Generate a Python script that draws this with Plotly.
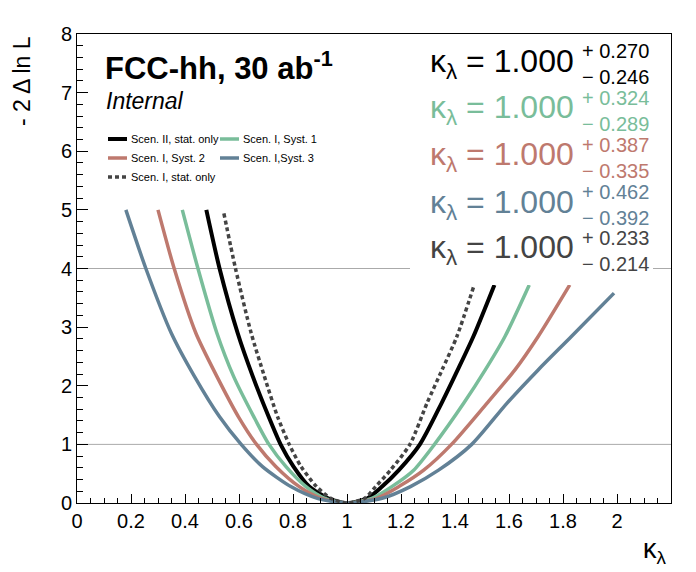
import plotly.graph_objects as go

# -2 Delta ln L scans vs kappa_lambda
k_scen2_stat = [0.479, 0.528, 0.595, 0.651, 0.710, 0.754, 0.802, 0.860, 0.930, 1.000,
                1.076, 1.130, 1.192, 1.270, 1.350, 1.410, 1.468, 1.546]
nll_scen2_stat = [5.00, 4.00, 2.90, 2.16, 1.47, 1.00, 0.62, 0.28, 0.08, 0.00,
                  0.08, 0.28, 0.56, 1.00, 1.70, 2.27, 2.84, 3.72]

k_syst1 = [0.390, 0.448, 0.518, 0.580, 0.655, 0.711, 0.774, 0.848, 0.918, 1.000,
           1.092, 1.166, 1.247, 1.324, 1.432, 1.512, 1.585, 1.675]
nll_syst1 = [5.00, 4.00, 2.90, 2.16, 1.47, 1.00, 0.62, 0.28, 0.08, 0.00,
             0.08, 0.28, 0.56, 1.00, 1.70, 2.27, 2.84, 3.72]

k_syst2 = [0.300, 0.360, 0.440, 0.518, 0.598, 0.665, 0.737, 0.823, 0.905, 1.000,
           1.110, 1.192, 1.284, 1.387, 1.518, 1.622, 1.708, 1.825]
nll_syst2 = [5.00, 4.00, 2.90, 2.16, 1.47, 1.00, 0.62, 0.28, 0.08, 0.00,
             0.08, 0.28, 0.56, 1.00, 1.70, 2.27, 2.84, 3.72]

k_syst3 = [0.181, 0.255, 0.349, 0.435, 0.528, 0.608, 0.687, 0.792, 0.890, 1.000,
           1.130, 1.235, 1.339, 1.462, 1.592, 1.708, 1.831, 1.989]
nll_syst3 = [5.00, 4.00, 2.90, 2.16, 1.47, 1.00, 0.62, 0.28, 0.08, 0.00,
             0.08, 0.28, 0.56, 1.00, 1.70, 2.27, 2.84, 3.58]

k_scen1_stat = [0.544, 0.587, 0.645, 0.694, 0.743, 0.786, 0.830, 0.887, 0.940, 1.000,
                1.066, 1.106, 1.161, 1.233, 1.296, 1.352, 1.407, 1.469]
nll_scen1_stat = [4.94, 4.00, 2.90, 2.16, 1.47, 1.00, 0.62, 0.28, 0.08, 0.00,
                  0.08, 0.28, 0.56, 1.00, 1.70, 2.27, 2.84, 3.69]

# fit results: central value, +err, -err
kl_central = [1.000, 1.000, 1.000, 1.000, 1.000]
kl_err_up = [0.270, 0.324, 0.387, 0.462, 0.233]
kl_err_dn = [0.246, 0.289, 0.335, 0.392, 0.214]

x_tick_vals = [0, 0.2, 0.4, 0.6, 0.8, 1, 1.2, 1.4, 1.6, 1.8, 2]
x_tick_text = ["0", "0.2", "0.4", "0.6", "0.8", "1", "1.2", "1.4", "1.6", "1.8", "2"]
y_tick_vals = [0, 1, 2, 3, 4, 5, 6, 7, 8]
sigma_levels = [1, 4]

BLACK = "#000000"
GREEN = "rgb(121,189,154)"
RED = "rgb(190,121,110)"
BLUE = "rgb(98,129,150)"
GREY = "rgb(68,68,68)"

FONT = "Liberation Sans, Arial, sans-serif"

W, H = 696, 572
L, R, T, B = 77, 25, 34, 69


def px2x(px):
    return (px - L) / (W - L - R)


def px2y(py):
    return (H - B - py) / (H - T - B)


series = [
    ("Scen. II, stat. only", k_scen2_stat, nll_scen2_stat, BLACK, 4, "solid"),
    ("Scen. I, Syst. 1", k_syst1, nll_syst1, GREEN, 3.5, "solid"),
    ("Scen. I, Syst. 2", k_syst2, nll_syst2, RED, 3.5, "solid"),
    ("Scen. I,Syst. 3", k_syst3, nll_syst3, BLUE, 3.5, "solid"),
    ("Scen. I, stat. only", k_scen1_stat, nll_scen1_stat, GREY, 3.5, "4px,3px"),
]

fig = go.Figure()

for name, xs, ys, col, lw, dash in series:
    fig.add_trace(go.Scatter(x=xs, y=ys, mode="lines", name=name, showlegend=False,
                             line=dict(color=col, width=lw, dash=dash, shape="spline", smoothing=0.7)))

shapes = []
# 1 and 2 sigma lines
for lv in sigma_levels:
    shapes.append(dict(type="line", xref="paper", yref="y", x0=0, x1=1, y0=lv, y1=lv,
                       line=dict(color="#aaaaaa", width=1), layer="below"))
# white box behind the results
shapes.append(dict(type="rect", xref="paper", yref="paper",
                   x0=px2x(410), x1=px2x(653), y0=px2y(285), y1=px2y(36),
                   fillcolor="white", line=dict(width=0), layer="above"))

annotations = []
# legend, two columns, row major like ROOT
leg_cols = [108, 220]
leg_rows = [139, 158, 177]
for i, (name, xs, ys, col, lw, dash) in enumerate(series):
    cx = leg_cols[i % 2]
    cy = leg_rows[i // 2]
    shapes.append(dict(type="line", xref="paper", yref="paper",
                       x0=px2x(cx), x1=px2x(cx + 19), y0=px2y(cy), y1=px2y(cy),
                       line=dict(color=col, width=lw, dash=dash), layer="above"))
    annotations.append(dict(text=name, xref="paper", yref="paper", x=px2x(cx + 21), y=px2y(cy),
                            xanchor="left", yanchor="middle", showarrow=False,
                            font=dict(family=FONT, size=11, color="black")))

# results
res_cols = [BLACK, GREEN, RED, BLUE, GREY]
res_rows = [63, 110, 157, 204, 250]
for c, up, dn, col, ry in zip(kl_central, kl_err_up, kl_err_dn, res_cols, res_rows):
    annotations.append(dict(text=f"κ<sub>λ</sub> = {c:.3f}", xref="paper", yref="paper",
                            x=px2x(576), y=px2y(ry), xanchor="right", yanchor="middle",
                            showarrow=False, font=dict(family=FONT, size=32, color=col)))
    annotations.append(dict(text=f"+ {up:.3f}<br>\u2212 {dn:.3f}", xref="paper", yref="paper",
                            x=px2x(580), y=px2y(ry + 1), xanchor="left", yanchor="middle", align="left",
                            showarrow=False, font=dict(family=FONT, size=20, color=col)))

annotations += [
    dict(text="<b>FCC-hh, 30 ab<sup>-1</sup></b>", xref="paper", yref="paper",
         x=px2x(103), y=px2y(66), xanchor="left", yanchor="middle", showarrow=False,
         font=dict(family=FONT, size=31, color="black")),
    dict(text="<i>Internal</i>", xref="paper", yref="paper",
         x=px2x(104), y=px2y(101), xanchor="left", yanchor="middle", showarrow=False,
         font=dict(family=FONT, size=23, color="black")),
    dict(text="- 2 Δ ln L", xref="paper", yref="paper", textangle=-90,
         x=px2x(22), y=px2y(34), xanchor="center", yanchor="top", showarrow=False,
         font=dict(family=FONT, size=23, color="black")),
    dict(text="κ<sub>λ</sub>", xref="paper", yref="paper",
         x=px2x(669), y=px2y(551), xanchor="right", yanchor="middle", showarrow=False,
         font=dict(family=FONT, size=27, color="black")),
]

fig.update_layout(
    width=W, height=H,
    margin=dict(l=L, r=R, t=T, b=B),
    paper_bgcolor="white", plot_bgcolor="white",
    font=dict(family=FONT, size=20, color="black"),
    shapes=shapes,
    annotations=annotations,
    showlegend=False,
)
fig.update_xaxes(range=[0, 2.2], tickvals=x_tick_vals, ticktext=x_tick_text,
                 ticks="inside", ticklen=9, tickcolor="black", showgrid=False, zeroline=False,
                 showline=True, linecolor="black", linewidth=1, mirror=True,
                 tickfont=dict(size=20),
                 minor=dict(dtick=0.05, ticks="inside", ticklen=5, tickcolor="black", showgrid=False))
fig.update_yaxes(range=[0, 8], tickvals=y_tick_vals,
                 ticks="inside", ticklen=11, tickcolor="black", showgrid=False, zeroline=False,
                 showline=True, linecolor="black", linewidth=1, mirror=True,
                 tickfont=dict(size=20),
                 minor=dict(dtick=0.2, ticks="inside", ticklen=6, tickcolor="black", showgrid=False))

fig.write_html("out.html", config={"displayModeBar": False},
               post_script="document.body.style.margin='0';")
